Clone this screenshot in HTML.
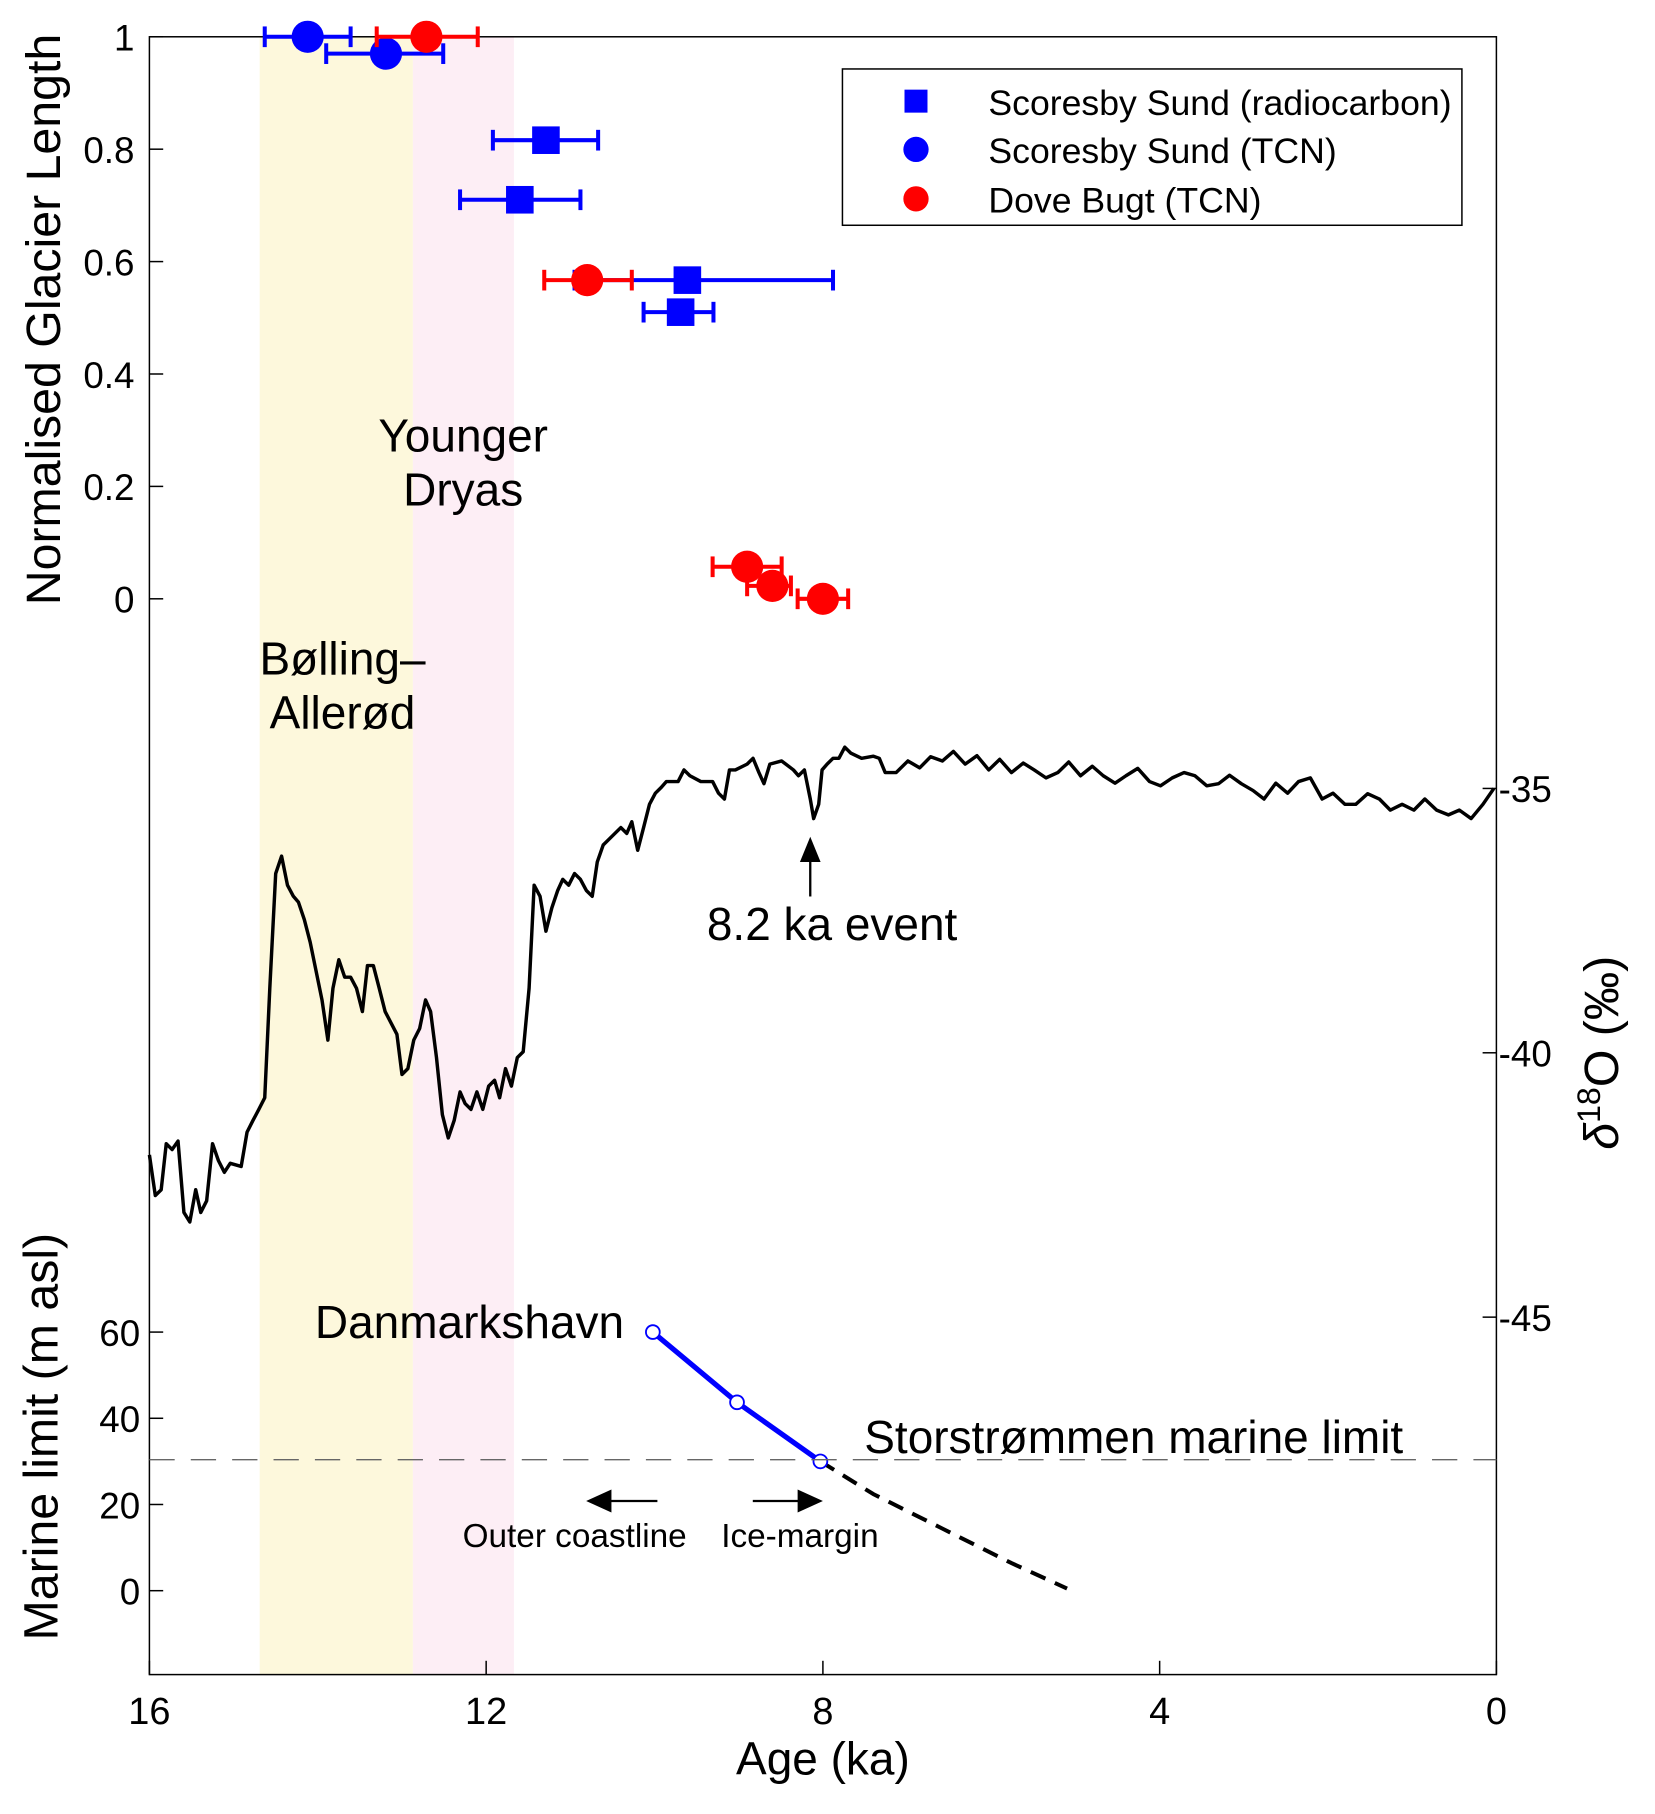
<!DOCTYPE html>
<html><head><meta charset="utf-8"><style>
html,body{margin:0;padding:0;background:#fff;overflow:hidden}
svg{display:block;font-family:"Liberation Sans",Arial,sans-serif}
</style></head><body>
<svg id="chart" width="1655" height="1814" viewBox="0 0 1440 1578.3" preserveAspectRatio="none" xmlns="http://www.w3.org/2000/svg">
<g id="bg"></g><g id="curves"></g><g id="axes"></g><g id="marks"></g>
</svg>
<script>
// ---- data ----
const shadeBA = [14.69, 12.87];
const shadeYD = [12.87, 11.67];
const sqAge = [11.29, 11.60, 9.61, 9.69];
const sqVal = [0.816, 0.71, 0.567, 0.51];
const sqErrLo = [11.92, 12.31, 10.95, 10.13];
const sqErrHi = [10.67, 10.88, 7.88, 9.30];
const bcAge = [14.12, 13.19];
const bcVal = [1.0, 0.97];
const bcErrLo = [14.63, 13.90];
const bcErrHi = [13.61, 12.51];
const rcAge = [12.71, 10.80, 8.90, 8.60, 8.00];
const rcVal = [1.0, 0.567, 0.057, 0.023, 0.0];
const rcErrLo = [13.30, 11.31, 9.31, 8.90, 8.30];
const rcErrHi = [12.10, 10.27, 8.49, 8.38, 7.70];
const d18Age = [16.0,15.93,15.86,15.80,15.73,15.66,15.59,15.52,15.45,15.39,15.32,15.25,15.18,15.11,15.04,14.91,14.84,14.77,14.70,14.63,14.57,14.50,14.43,14.36,14.29,14.23,14.16,14.09,13.95,13.88,13.82,13.75,13.68,13.61,13.54,13.47,13.41,13.34,13.27,13.20,13.06,13.00,12.93,12.86,12.79,12.72,12.66,12.59,12.52,12.45,12.38,12.31,12.25,12.18,12.11,12.04,11.97,11.90,11.84,11.77,11.70,11.63,11.56,11.49,11.43,11.36,11.29,11.22,11.15,11.09,11.02,10.95,10.88,10.81,10.74,10.68,10.61,10.54,10.40,10.33,10.27,10.20,10.13,10.06,9.99,9.92,9.86,9.72,9.65,9.58,9.45,9.31,9.24,9.17,9.11,9.04,8.90,8.83,8.76,8.70,8.63,8.49,8.35,8.29,8.22,8.15,8.11,8.05,8.01,7.95,7.88,7.81,7.74,7.67,7.54,7.40,7.33,7.26,7.13,6.99,6.85,6.72,6.58,6.45,6.31,6.17,6.03,5.90,5.76,5.62,5.49,5.35,5.21,5.08,4.94,4.80,4.67,4.53,4.40,4.26,4.12,3.99,3.85,3.71,3.58,3.44,3.30,3.17,3.03,2.89,2.76,2.62,2.48,2.35,2.21,2.07,1.94,1.80,1.67,1.53,1.39,1.26,1.12,0.98,0.85,0.71,0.57,0.44,0.30,0.16,0.03];
const d18Val = [-41.93,-42.70,-42.59,-41.72,-41.83,-41.67,-43.02,-43.2,-42.59,-43.02,-42.80,-41.72,-42.04,-42.26,-42.09,-42.15,-41.50,-41.28,-41.07,-40.85,-38.78,-36.61,-36.28,-36.83,-37.04,-37.15,-37.48,-37.91,-39.0,-39.76,-38.78,-38.24,-38.57,-38.57,-38.78,-39.22,-38.35,-38.35,-38.78,-39.22,-39.65,-40.41,-40.30,-39.76,-39.54,-39.0,-39.22,-40.09,-41.17,-41.61,-41.28,-40.74,-40.96,-41.07,-40.74,-41.07,-40.63,-40.52,-40.85,-40.30,-40.63,-40.09,-39.98,-38.78,-36.83,-37.04,-37.70,-37.26,-36.93,-36.72,-36.83,-36.61,-36.72,-36.93,-37.04,-36.39,-36.07,-35.96,-35.74,-35.85,-35.63,-36.17,-35.74,-35.30,-35.09,-34.98,-34.87,-34.87,-34.65,-34.76,-34.87,-34.87,-35.09,-35.20,-34.65,-34.65,-34.54,-34.43,-34.70,-34.91,-34.54,-34.48,-34.65,-34.76,-34.65,-35.20,-35.57,-35.30,-34.65,-34.54,-34.43,-34.43,-34.22,-34.33,-34.43,-34.39,-34.43,-34.70,-34.70,-34.48,-34.61,-34.40,-34.48,-34.30,-34.54,-34.38,-34.65,-34.45,-34.70,-34.52,-34.65,-34.80,-34.70,-34.50,-34.76,-34.58,-34.76,-34.90,-34.76,-34.62,-34.87,-34.95,-34.80,-34.70,-34.76,-34.95,-34.91,-34.75,-34.91,-35.04,-35.20,-34.90,-35.09,-34.87,-34.80,-35.20,-35.09,-35.30,-35.30,-35.10,-35.20,-35.41,-35.30,-35.41,-35.20,-35.41,-35.50,-35.41,-35.57,-35.30,-35.0];
const mlAge = [10.02, 9.02, 8.03];
const mlVal = [60, 43.7, 30];
const projAge = [8.03, 7.40, 6.58, 5.76, 5.10];
const projVal = [30, 22.4, 14.4, 6.4, 0.5];
const storLimit = 30.4;
const xTicks = [16, 12, 8, 4, 0];
const glTicks = [0, 0.2, 0.4, 0.6, 0.8, 1];
const glTickLabels = ["0","0.2","0.4","0.6","0.8","1"];
const dTicks = [-35, -40, -45];
const mlTicks = [0, 20, 40, 60];

// ---- scales ----
const L=130,R=1302,T=32,B=1457;
const X = a => L + (16 - a) * (R - L) / 16;
const YG = v => 521 - v * 489;
const YD = v => 686 + (-35 - v) * 46;
const YM = v => 1384 - v * 3.75;
const NS="http://www.w3.org/2000/svg";
function mk(parent, tag, attrs, text){const e=document.createElementNS(NS,tag);for(const k in attrs)e.setAttribute(k,attrs[k]);if(text!==undefined)e.textContent=text;document.getElementById(parent).appendChild(e);return e;}

let e;
e=mk('bg','rect',{x:X(shadeBA[0]),y:T,width:X(shadeBA[1])-X(shadeBA[0]),height:B-T,fill:'#fdf8dc'});


e=mk('bg','rect',{x:X(shadeYD[0]),y:T,width:X(shadeYD[1])-X(shadeYD[0]),height:B-T,fill:'#fdeef5'});



e=mk('axes','rect',{x:L,y:T,width:R-L,height:B-T,fill:'none',stroke:'#000','stroke-width':1.3});


xTicks.forEach(t=>{
  mk('axes','line',{x1:X(t),x2:X(t),y1:B,y2:B-12,stroke:'#000','stroke-width':1.3});
  e=mk('axes','text',{x:X(t),y:1500,'font-size':33,'text-anchor':'middle'},String(t));
  
  
});
glTicks.forEach((t,i)=>{
  mk('axes','line',{x1:L,x2:L+12,y1:YG(t),y2:YG(t),stroke:'#000','stroke-width':1.3});
  e=mk('axes','text',{x:117,y:YG(t)+12,'font-size':32,'text-anchor':'end'},glTickLabels[i]);
  
  
});
mlTicks.forEach(t=>{
  mk('axes','line',{x1:L,x2:L+12,y1:YM(t),y2:YM(t),stroke:'#000','stroke-width':1.3});
  e=mk('axes','text',{x:122,y:YM(t)+12,'font-size':32,'text-anchor':'end'},String(t));
  
  
});
dTicks.forEach(t=>{
  mk('axes','line',{x1:R,x2:R-12,y1:YD(t),y2:YD(t),stroke:'#000','stroke-width':1.3});
  e=mk('axes','text',{x:1304,y:YD(t)+12,'font-size':32,'text-anchor':'start'},'-'+String(-t));
  
  
});
e=mk('axes','line',{x1:L,x2:R,y1:YM(storLimit),y2:YM(storLimit),stroke:'#666','stroke-width':1.2,'stroke-dasharray':'22,14'});



e=mk('curves','polyline',{points:d18Age.map((a,i)=>X(a)+','+YD(d18Val[i])).join(' '),fill:'none',stroke:'#000','stroke-width':3,'stroke-linejoin':'round'});


e=mk('curves','polyline',{points:projAge.map((a,i)=>X(a)+','+YM(projVal[i])).join(' '),fill:'none',stroke:'#000','stroke-width':3.5,'stroke-dasharray':'14,9'});


e=mk('curves','polyline',{points:mlAge.map((a,i)=>X(a)+','+YM(mlVal[i])).join(' '),fill:'none',stroke:'#0000ff','stroke-width':4.5});


mlAge.forEach((a,i)=>{
  e=mk('curves','circle',{cx:X(a),cy:YM(mlVal[i]),r:6,fill:'#fff',stroke:'#0000ff','stroke-width':1.6});
  
  
});

function ebar(a,lo,hi,v,color){
  const y=YG(v);
  mk('marks','line',{x1:X(lo),x2:X(hi),y1:y,y2:y,stroke:color,'stroke-width':3.5});
  mk('marks','line',{x1:X(lo),x2:X(lo),y1:y-9,y2:y+9,stroke:color,'stroke-width':3.5});
  mk('marks','line',{x1:X(hi),x2:X(hi),y1:y-9,y2:y+9,stroke:color,'stroke-width':3.5});
}
bcAge.forEach((a,i)=>{ebar(a,bcErrLo[i],bcErrHi[i],bcVal[i],'#0000ff');
  e=mk('marks','circle',{cx:X(a),cy:YG(bcVal[i]),r:14,fill:'#0000ff'});
  
  });
sqAge.forEach((a,i)=>{ebar(a,sqErrLo[i],sqErrHi[i],sqVal[i],'#0000ff');
  e=mk('marks','rect',{x:X(a)-12,y:YG(sqVal[i])-12,width:24,height:24,fill:'#0000ff'});
  
  });
rcAge.forEach((a,i)=>{ebar(a,rcErrLo[i],rcErrHi[i],rcVal[i],'#ff0000');
  e=mk('marks','circle',{cx:X(a),cy:YG(rcVal[i]),r:14,fill:'#ff0000'});
  
  });
</script>
<svg style="position:absolute;left:0;top:0" width="1655" height="1814" viewBox="0 0 1440 1578.3" preserveAspectRatio="none" xmlns="http://www.w3.org/2000/svg" font-family="Liberation Sans, Arial, sans-serif">
  <g>
    <rect x="733" y="60" width="539" height="136" fill="#fff" stroke="#000" stroke-width="1.3"/>
    <rect x="787" y="78" width="20" height="20" fill="#0000ff"/>
    <circle cx="797" cy="130" r="11" fill="#0000ff"/>
    <circle cx="797" cy="173" r="11" fill="#ff0000"/>
    <text x="860" y="100" font-size="31">Scoresby Sund (radiocarbon)</text>
    <text x="860" y="142" font-size="31">Scoresby Sund (TCN)</text>
    <text x="860" y="185" font-size="31">Dove Bugt (TCN)</text>
  </g>
  <text font-size="40" text-anchor="middle"><tspan x="403" y="393">Younger</tspan><tspan x="403" y="440">Dryas</tspan></text>
  <text font-size="40" text-anchor="middle"><tspan x="298" y="587">Bølling–</tspan><tspan x="298" y="634">Allerød</tspan></text>
  <text x="724" y="818" font-size="40" text-anchor="middle">8.2 ka event</text>
  <line x1="705" y1="780" x2="705" y2="745" stroke="#000" stroke-width="2"/>
  <polygon points="705,728 696,750 714,750" fill="#000"/>
  <text x="543" y="1164" font-size="40" text-anchor="end">Danmarkshavn</text>
  <text x="752" y="1264" font-size="40">Storstrømmen marine limit</text>
  <line x1="572" y1="1306" x2="528" y2="1306" stroke="#000" stroke-width="2"/>
  <polygon points="510,1306 532,1296 532,1316" fill="#000"/>
  <line x1="655" y1="1306" x2="698" y2="1306" stroke="#000" stroke-width="2"/>
  <polygon points="716,1306 694,1296 694,1316" fill="#000"/>
  <text x="500" y="1346" font-size="29" text-anchor="middle">Outer coastline</text>
  <text x="696" y="1346" font-size="29" text-anchor="middle">Ice-margin</text>
  <text x="716" y="1544" font-size="40" text-anchor="middle">Age (ka)</text>
  <text transform="translate(52,278) rotate(-90)" font-size="42" text-anchor="middle">Normalised Glacier Length</text>
  <text transform="translate(50,1250) rotate(-90)" font-size="42" text-anchor="middle">Marine limit (m asl)</text>
  <text transform="translate(1408,916) rotate(-90)" font-size="42" text-anchor="middle"><tspan font-style="italic">δ</tspan><tspan font-size="28" dy="-16">18</tspan><tspan dy="16">O (‰)</tspan></text>
</svg>
</body></html>
